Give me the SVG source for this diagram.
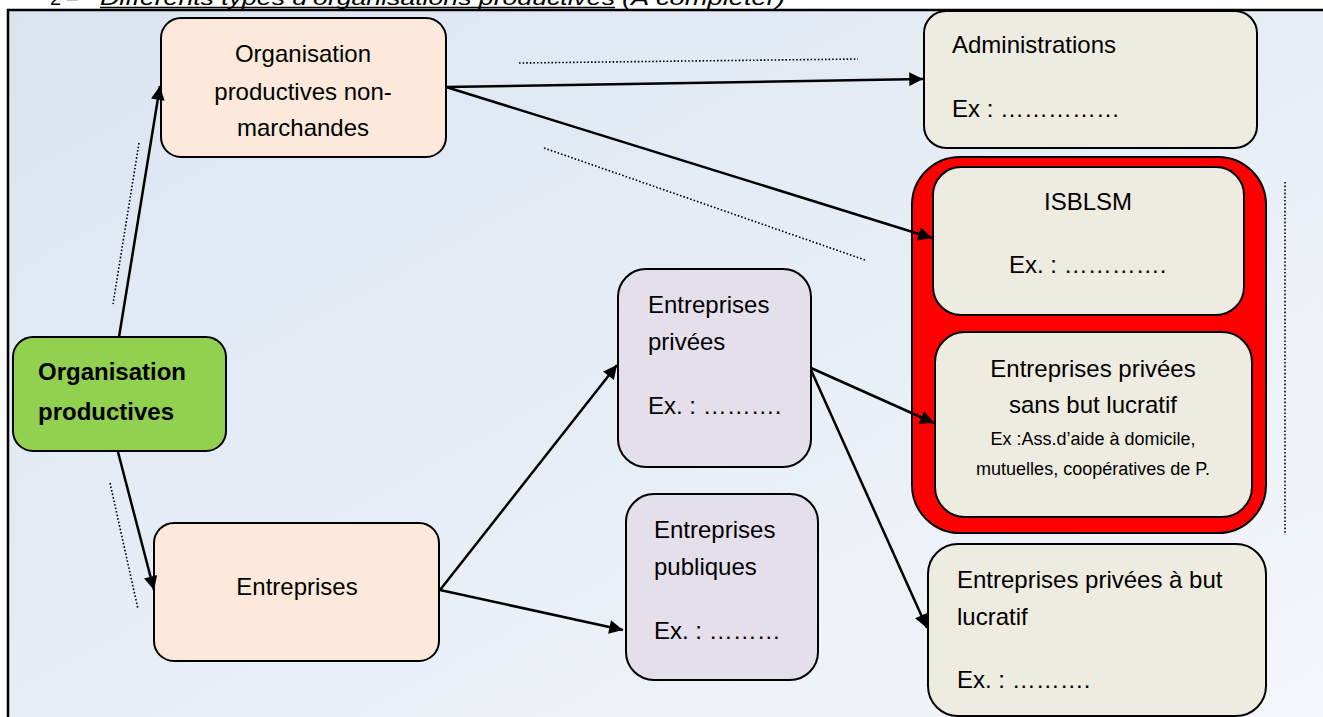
<svg xmlns="http://www.w3.org/2000/svg" width="1323" height="717" viewBox="0 0 1323 717">
<defs>
<linearGradient id="bg" x1="0" y1="0" x2="1" y2="1">
<stop offset="0" stop-color="#dae4f1"/>
<stop offset="1" stop-color="#f4f7fb"/>
</linearGradient>
<marker id="arr" viewBox="0 0 10 10" refX="10" refY="5" markerWidth="7" markerHeight="5.5" markerUnits="strokeWidth" orient="auto">
<path d="M0,0 L10,5 L0,10 z" fill="#000"/>
</marker>
</defs>
<style>
.t{font-family:"Liberation Sans",Arial,sans-serif;font-size:24px;fill:#000}
.b{font-weight:bold}
.s{font-size:18px}
.box{stroke:#000;stroke-width:2}
.peach{fill:#fce9db}
.beige{fill:#eeebe0}
.lav{fill:#e4dfeb}
.conn{stroke:#000;stroke-width:2.5;fill:none;marker-end:url(#arr)}
.dot{stroke:#000;stroke-width:1.6;fill:none;stroke-dasharray:1.6 2}
</style>
<rect x="0" y="0" width="1323" height="717" fill="#fff"/>
<text x="50" y="5" class="t" style="font-size:20px">2 –</text>
<text x="100" y="5" class="t" style="font-size:20px;font-style:italic" textLength="515" lengthAdjust="spacingAndGlyphs">Différents types d’organisations productives</text>
<line x1="100" y1="7.5" x2="615" y2="7.5" stroke="#000" stroke-width="1.5"/>
<text x="622" y="5" class="t" style="font-size:20px;font-style:italic" textLength="163" lengthAdjust="spacingAndGlyphs">(A compléter)</text>
<rect x="8" y="10" width="1330" height="720" fill="url(#bg)" stroke="#000" stroke-width="2.5"/>

<g id="n-op">
<rect class="box" x="13" y="337" width="213" height="114" rx="20" fill="#92d050"/>
<text class="t b" x="38" y="380">Organisation</text>
<text class="t b" x="38" y="420">productives</text>
</g>

<g id="n-nonmarch">
<rect class="box peach" x="161" y="18" width="285" height="139" rx="20"/>
<text class="t" x="303" y="62" text-anchor="middle">Organisation</text>
<text class="t" x="303" y="100" text-anchor="middle">productives non-</text>
<text class="t" x="303" y="136" text-anchor="middle">marchandes</text>
</g>

<g id="n-entreprises">
<rect class="box peach" x="154" y="523" width="285" height="138" rx="20"/>
<text class="t" x="297" y="595" text-anchor="middle">Entreprises</text>
</g>

<g id="n-admin">
<rect class="box beige" x="924" y="11" width="333" height="137" rx="22"/>
<text class="t" x="952" y="53">Administrations</text>
<text class="t" x="952" y="117">Ex : &#8230;&#8230;&#8230;&#8230;&#8230;</text>
</g>

<g id="n-red">
<rect x="912" y="157" width="354" height="376" rx="48" fill="#ff0000" stroke="#000" stroke-width="2"/>
</g>

<g id="n-isblsm">
<rect class="box beige" x="933" y="167" width="311" height="148" rx="28"/>
<text class="t" x="1088" y="210" text-anchor="middle">ISBLSM</text>
<text class="t" x="1009" y="273">Ex. : &#8230;&#8230;&#8230;&#8230;.</text>
</g>

<g id="n-sansbut">
<rect class="box beige" x="935" y="332" width="317" height="185" rx="30"/>
<text class="t" x="1093" y="377" text-anchor="middle">Entreprises privées</text>
<text class="t" x="1093" y="413" text-anchor="middle">sans but lucratif</text>
<text class="t s" x="1093" y="445" text-anchor="middle">Ex :Ass.d’aide à domicile,</text>
<text class="t s" x="1093" y="475" text-anchor="middle">mutuelles, coopératives de P.</text>
</g>

<g id="n-abut">
<rect class="box beige" x="928" y="544" width="338" height="172" rx="30"/>
<text class="t" x="957" y="588">Entreprises privées à but</text>
<text class="t" x="957" y="625">lucratif</text>
<text class="t" x="957" y="688">Ex. : &#8230;&#8230;&#8230;.</text>
</g>

<g id="n-privees">
<rect class="box lav" x="618" y="269" width="193" height="198" rx="28"/>
<text class="t" x="648" y="313">Entreprises</text>
<text class="t" x="648" y="350">privées</text>
<text class="t" x="648" y="414">Ex. : &#8230;&#8230;&#8230;.</text>
</g>

<g id="n-publiques">
<rect class="box lav" x="626" y="494" width="192" height="186" rx="28"/>
<text class="t" x="654" y="538">Entreprises</text>
<text class="t" x="654" y="575">publiques</text>
<text class="t" x="654" y="639">Ex. : &#8230;&#8230;&#8230;</text>
</g>

<g id="connectors">
<line class="conn" x1="119" y1="337" x2="160" y2="86"/>
<line class="conn" x1="118" y1="452" x2="154" y2="590"/>
<line class="conn" x1="446" y1="87" x2="923" y2="79"/>
<line class="conn" x1="446" y1="87" x2="932" y2="238"/>
<line class="conn" x1="440" y1="590" x2="617" y2="365"/>
<line class="conn" x1="440" y1="590" x2="623" y2="630"/>
<line class="conn" x1="811" y1="368" x2="934" y2="423"/>
<line class="conn" x1="811" y1="370" x2="927" y2="628"/>
<line class="dot" x1="139" y1="143" x2="113" y2="304"/>
<line class="dot" x1="110" y1="483" x2="138" y2="609"/>
<line class="dot" x1="519" y1="63" x2="858" y2="59"/>
<line class="dot" x1="544" y1="148" x2="865" y2="260"/>
<line class="dot" x1="1285" y1="182" x2="1285" y2="535"/>
</g>
</svg>
